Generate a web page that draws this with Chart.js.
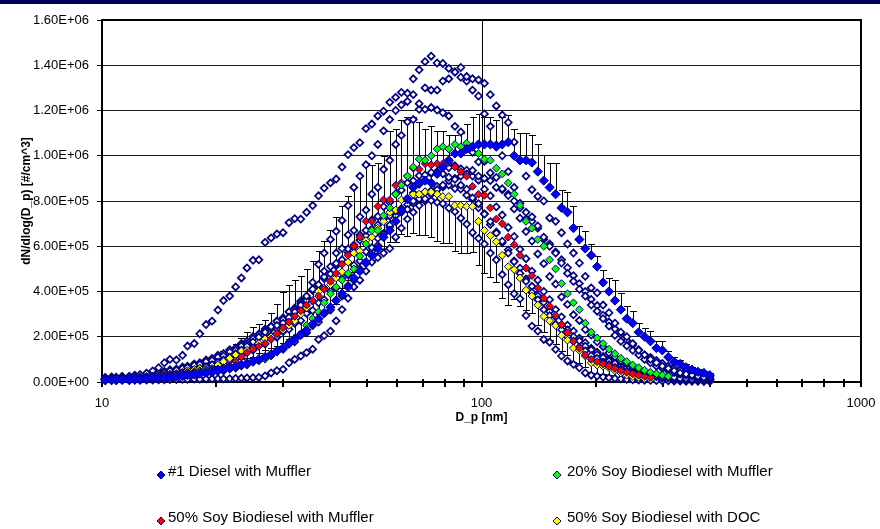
<!DOCTYPE html>
<html>
<head>
<meta charset="utf-8">
<script src="https://cdn.jsdelivr.net/npm/chart.js@4.4.1/dist/chart.umd.min.js"></script>
<style>
  html, body { margin: 0; padding: 0; background: #fff; }
  #wrap { position: relative; width: 880px; height: 529px; overflow: hidden; font-family: Arial, "Liberation Sans", sans-serif; }
  #topbar { position: absolute; left: 0; top: 0; width: 880px; height: 4px; background: #00005a; }
  .lgText { position: absolute; font-size: 15px; line-height: 17px; color: #000; white-space: nowrap; }
  .lgMark { position: absolute; width: 10px; height: 10px; }
</style>
</head>
<body>
<div id="wrap">
  <canvas id="myChart" width="880" height="529"></canvas>
  <div id="topbar"></div>
  <div id="legend"></div>
</div>
<script>
// particle diameter of each SMPS channel [nm]
var DIAMETER_NM = [
  10.2, 10.6, 10.9, 11.3, 11.8, 12.2, 12.6, 13.1, 13.6, 14.1,
  14.6, 15.1, 15.7, 16.3, 16.8, 17.5, 18.1, 18.8, 19.5, 20.2,
  20.9, 21.7, 22.5, 23.3, 24.1, 25.0, 25.9, 26.9, 27.9, 28.9,
  30.0, 31.1, 32.2, 33.4, 34.6, 35.9, 37.2, 38.5, 40.0, 41.4,
  42.9, 44.5, 46.1, 47.8, 49.6, 51.4, 53.3, 55.2, 57.3, 59.4,
  61.5, 63.8, 66.1, 68.5, 71.0, 73.7, 76.4, 79.1, 82.0, 85.1,
  88.2, 91.4, 94.7, 98.2, 101.8, 105.5, 109.4, 113.4, 117.6, 121.9,
  126.3, 131.0, 135.8, 140.7, 145.9, 151.2, 156.8, 162.5, 168.5, 174.7,
  181.1, 187.7, 194.6, 201.7, 209.1, 216.7, 224.7, 232.9, 241.4, 250.3,
  259.5, 269.0, 278.8, 289.0, 299.6, 310.6, 322.0, 333.8, 346.0, 358.7,
  371.8, 385.4, 399.5
];

// all values below in units of 1e4 #/cm^3
var UNIT = 1e4;

var SERIES_LABELS = ['#1 Diesel with Muffler', '20% Soy Biodiesel with Muffler',
                     '50% Soy Biodiesel with Muffler', '50% Soy Biodiesel with DOC'];
var SERIES_COLORS = ['#0000ff', '#00ff00', '#ff0000', '#ffff00'];

var DIESEL = [
  1.0, 1.0, 1.0, 1.1, 1.2, 1.3, 1.4, 1.5, 1.7, 1.9,
  2.0, 2.2, 2.4, 2.7, 3.0, 3.3, 3.7, 4.1, 4.5, 5.0,
  5.5, 6.1, 6.8, 7.5, 8.3, 9.2, 10.1, 11.1, 12.3, 13.6,
  15, 17, 19, 21, 23, 25.5, 28, 30.5, 33, 36,
  39, 42, 46, 49, 53, 56, 59, 64, 67, 71,
  76, 81, 86, 88, 89, 88, 92, 95, 98, 101,
  101, 103, 104, 105, 105, 105, 104, 105, 106, 100,
  98, 98, 97, 93, 89, 86, 83, 77, 75, 68,
  63, 59, 56, 51, 44, 40, 36, 32, 28, 26,
  22, 20, 18, 15, 14, 11, 9, 8, 6.5, 5.5,
  4.5, 4, 3
];
// plus-direction error bars
var DIESEL_ERR = [
  0.6, 0.6, 0.7, 0.8, 0.9, 1.0, 1.2, 1.4, 1.6, 1.9,
  2.2, 2.6, 3.0, 3.5, 4.0, 4.6, 5.2, 5.8, 6.4, 7.0,
  8, 9, 10, 12, 14, 15, 15.5, 16.5, 18, 21,
  25, 26, 26, 26, 27, 28, 30, 32, 34, 37,
  39, 40, 40, 42, 44, 40, 38, 36, 44, 41,
  40, 36, 31, 27, 23, 25, 19, 16, 11, 8,
  9, 11, 13, 13.5, 12, 12, 12, 12, 12, 12,
  12, 12, 12, 12, 11.5, 11, 14, 8, 9, 10,
  6, 7.6, 5, 4.5, 5.7, 6, 9, 7.4, 5.5, 5.3,
  4, 4, 4.5, 3, 4, 2.5, 2.2, 1.9, 1.6, 1.3,
  1.1, 0.9, 0.8
];

var SOY20 = [
  1.1, 1.1, 1.2, 1.3, 1.4, 1.5, 1.6, 1.8, 2.0, 2.2,
  2.4, 2.7, 3.0, 3.3, 3.7, 4.1, 4.6, 5.1, 5.4, 5.6,
  5.8, 6.3, 6.9, 7.5, 8.1, 8.7, 9.4, 10.1, 11.5, 13.2,
  15, 17.6, 19.5, 21, 25, 28, 31, 35, 39, 42,
  45, 48, 50, 55.6, 61, 67, 67, 73.5, 77, 83,
  87, 91, 95, 98.5, 98, 100, 103, 104, 103, 105,
  104, 105.5, 104, 101, 98.5, 98, 94.5, 92, 88, 83,
  78, 71, 68, 63, 60, 54, 50, 43.5, 39, 35,
  32, 26, 22, 19.5, 17, 14.5, 12.5, 10.5, 9, 7.5,
  6.3, 5.2, 4.3, 3.6, 3, 2.5, null, null, null, null,
  null, null, null
];

var SOY50 = [
  1.2, 1.2, 1.3, 1.4, 1.5, 1.7, 1.9, 2.1, 2.4, 2.7,
  3.0, 3.3, 3.6, 3.9, 4.2, 4.6, 5.0, 5.3, 5.6, 5.8,
  6.3, 7.0, 9.0, 11.0, 13, 14.5, 15.8, 17, 19, 21.5,
  24, 26.5, 29, 31.5, 34, 36, 38, 41, 44.5, 48,
  52, 56, 60, 64, 71, 71, 77.6, 80.5, 80.5, 87,
  88, 91, 94.5, 94, 96.5, 96, 96.5, 96.5, 97, 95,
  93, 91, 86.5, 83, 82.5, 77, 72, 70, 64, 60.7,
  56, 50.4, 47, 41.6, 37, 33.5, 29.4, 25.4, 21.8, 18,
  15, 12, 10, 9, 8, 7, 6, 5, 4.3, 3.6,
  3, 2.5, 2.1, null, null, null, null, null, null, null,
  null, null, null
];

var SOY50_DOC = [
  1.3, 1.4, 1.5, 1.6, 1.8, 2.0, 2.2, 2.5, 2.7, 3.0,
  3.2, 3.3, 3.4, 4.2, 5.0, 5.5, 6.0, 6.0, 6.0, 7.5,
  9, 10.5, 12, 13.7, 14, 15, 17, 19, 20, 21,
  23, 25, 27, 30, 32.8, 35.7, 40, 41.5, 43, 46,
  48.7, 53, 57, 57.8, 62.5, 64, 68, 71, 75, 76,
  80.5, 80.5, 83, 83, 84, 84, 83, 82, 82, 78,
  78, 77.6, 77.6, 71, 67, 64.7, 62, 56, 51, 49.7,
  46, 40.6, 38, 34, 29, 27, 25, 20.6, 18.5, 15,
  14, 11.5, 8.5, 7.5, 7, 6.3, 5, 4, 3, 2.4,
  2, 1.5, 1.2, null, null, null, null, null, null, null,
  null, null, null
];
// minus-direction error bars
var SOY50_DOC_ERR = [
  0.3, 0.3, 0.4, 0.4, 0.4, 0.5, 0.5, 0.6, 0.7, 0.7,
  0.8, 0.8, 0.9, 1.0, 1.2, 1.4, 1.5, 1.5, 1.5, 1.9,
  2.2, 2.6, 3, 3.4, 3.5, 3.8, 4.2, 4.8, 5, 5.2,
  5.8, 6.2, 6.8, 7.5, 8.2, 9, 10, 10.4, 10.8, 11.5,
  7, 8, 8.5, 9, 9.5, 10, 11, 12, 13, 14,
  15, 16, 17, 18, 19, 20, 20.5, 20.5, 20.5, 20,
  21, 20.5, 20, 19.5, 19, 18.5, 18, 19, 17, 13,
  12.5, 8.6, 7.4, 9, 7, 8.5, 8, 7, 6.5, 6,
  5.5, 5, 4.5, 4, 3.5, 3, 2.6, 2.2, 1.9, 1.6,
  1.3, 1.1, 1, null, null, null, null, null, null, null,
  null, null, null
];

// individual runs, open markers (not in the legend)
var RUN_1 = [
  1.5, 1.6, 1.8, 2.0, 2.3, 2.7, 3.2, 3.9, 4.9, 6.3,
  8.5, 10, 9.7, 11.8, 15.9, 17, 21.3, 25.4, 26.9, 31.8,
  36, 38, 42, 46, 50.4, 53.8, 54, 61.7, 63.7, 65.4,
  66, 70.4, 72.2, 72, 75, 78, 82.3, 85.7, 88, 89.7,
  95, 100.5, 103.6, 105.8, 112, 114, 117.6, 119.7, 123.6, 125.8,
  128, 127.6, 134, 138, 141.6, 144, 141, 140.8, 138.6, 137,
  139, 135, 134, 133.5, 132, 127, 122, 118, 114.7, 106,
  98, 91, 85, 82, 80, 72.5, 71, 66, 61, 57,
  52.6, 46.7, 41.6, 39.4, 34, 30.6, 26, 22, 20, 17,
  14, 12, 10, 8.5, 7, 6, 5, 4, 3.5, 3,
  2.5, 2, 1.8
];
var RUN_2 = [
  1.2, 1.2, 1.3, 1.4, 1.5, 1.6, 1.8, 2.0, 2.2, 2.5,
  2.8, 3.2, 3.6, 4.1, 4.7, 5.3, 6.0, 6.8, 7.7, 8.7,
  9.8, 11, 12.5, 14, 15.8, 17.7, 19.8, 22, 24.5, 25,
  26, 28.5, 31, 34, 38, 44, 52, 57, 63, 66.6,
  71.4, 78, 86, 91, 96, 100, 105, 111, 116, 120,
  122.5, 124, 127, 123, 130, 129, 129, 133, 134, 137,
  134.7, 133, 129, 126.4, 118.5, 113, 104.8, 100, 93, 86,
  79, 72, 73, 69, 64, 60, 57, 52.6, 48, 44.5,
  41, 38, 34, 31.3, 28, 24.7, 20.6, 18, 16, 14,
  12, 10, 8.5, 7, 6, 5, 4.2, 3.5, 3, 2.5,
  2, 1.8, 1.5
];
var RUN_3 = [
  1.0, 1.1, 1.0, 1.2, 1.1, 1.4, 1.3, 1.6, 1.6, 2.0,
  2.0, 2.5, 2.6, 3.2, 3.4, 4.1, 4.5, 5.4, 6.0, 7.1,
  7.8, 9.4, 10.2, 12.3, 13.1, 15.4, 16.5, 19.4, 20.4, 23.6,
  24.2, 28.6, 30.2, 34.8, 36, 41, 43, 49, 51, 57,
  59, 65, 67, 73, 76, 83, 86, 94, 98, 105,
  109, 115, 116, 120.5, 120.5, 121.3, 120.2, 119, 117.6, 113,
  110.5, 104, 101.5, 97.3, 97.5, 92.4, 90.4, 85.4, 82.4, 76.5,
  72.4, 66.5, 62.3, 56.6, 52.3, 46.6, 43.3, 37.6, 34.3, 29.7,
  27.2, 23.2, 20.7, 17.8, 15.6, 12.9, 11.1, 9.4, 8.1, 6.7,
  5.8, 4.7, 4.1, 3.3, 2.9, 2.3, 2.1, 1.6, 1.5, 1.2,
  1.2, 1.0, 1.0
];
var RUN_4 = [
  1.8, 2.0, 1.9, 2.3, 2.4, 2.5, 3.0, 3.2, 3.4, 4.0,
  4.2, 4.9, 5.2, 6.0, 6.4, 7.4, 7.8, 9.0, 9.5, 11,
  11.5, 13.3, 14, 16, 16.8, 19.2, 20, 22.8, 23.6, 26.8,
  27.6, 31, 32, 35.8, 36.9, 41, 42, 46.5, 47.8, 52.4,
  54, 58.8, 60.5, 65, 67, 71.6, 73.2, 77.5, 79.4, 83.2,
  84.8, 88, 89, 91.2, 91.5, 92.6, 92, 92, 90.5, 89.6,
  87, 85.2, 81.4, 78.8, 74.2, 70.9, 65.8, 62.2, 57, 53.2,
  48, 44.5, 39.6, 36.4, 32, 29.3, 25.5, 23.1, 20, 18,
  15.4, 13.8, 11.6, 10.4, 8.7, 7.7, 6.4, 5.7, 4.7, 4.2,
  3.4, 3.1, 2.5, 2.3, 1.8, 1.7, 1.3, 1.2, 1.0, 0.9,
  0.8, 0.7, 0.6
];
var RUN_5 = [
  0.5, 0.6, 0.6, 0.7, 0.6, 0.8, 0.7, 0.9, 0.9, 1.0,
  1.0, 1.1, 1.1, 1.2, 1.2, 1.3, 1.3, 1.4, 1.4, 1.5,
  1.4, 1.5, 1.6, 1.7, 1.8, 1.9, 2.0, 2.7, 4.0, 5.0,
  5.6, 8.5, 10, 11.5, 13, 14.5, 18.8, 20.5, 22.5, 27,
  32, 37, 42, 45, 49, 53, 55, 57, 59, 64,
  68, 72, 75, 78, 81, 83, 85, 87, 89, 90,
  91, 92, 93.5, 91, 90, 89, 86, 85, 83, 80,
  77, 75, 71, 68, 63, 61, 57.5, 54, 50.5, 47,
  43.5, 40, 36.5, 33.8, 29.5, 26.5, 23.5, 21, 18.5, 16.3,
  14.3, 12, 10.9, 9.5, 8.2, 7.1, 6.1, 5.2, 4.5, 3.9,
  3.4, 2.9, 2.5
];
var RUN_6 = [
  1.4, 1.4, 1.7, 1.6, 2.0, 2.1, 2.4, 2.5, 3.0, 3.1,
  3.6, 3.8, 4.4, 4.6, 5.3, 5.6, 6.4, 6.8, 7.7, 8.2,
  9.4, 9.9, 11.3, 11.9, 13.5, 14.1, 16, 16.8, 19, 19.8,
  22.3, 23.3, 26, 27.1, 30.3, 31.6, 35, 36.4, 40.2, 41.7,
  45.8, 47.4, 51.6, 53.5, 57.6, 59.4, 63.5, 65.4, 69.3, 71.2,
  75, 76.3, 80, 81, 84, 84.6, 86.4, 86.2, 87, 85.5,
  85.3, 82.6, 80.8, 77, 74.4, 69.6, 66.3, 61.5, 58.4, 53.5,
  50.3, 45.6, 42.3, 38.1, 35.2, 31.2, 28.8, 25.2, 23, 20,
  18.2, 15.8, 14.2, 12.1, 10.8, 9.2, 8.2, 6.9, 6.2, 5.2,
  4.7, 3.9, 3.6, 2.9, 2.7, 2.2, 2.1, 1.7, 1.6, 1.4,
  1.2, 1.1, 1
];
var RUN_7 = [
  2.0, 2.2, 2.1, 2.5, 2.5, 3.0, 3.1, 3.6, 3.8, 4.4,
  4.7, 5.4, 5.8, 6.6, 7.0, 8.0, 8.5, 9.7, 10.4, 11.8,
  12.6, 14.3, 15.1, 17, 18, 20.1, 21.2, 23.4, 24.7, 27,
  28.4, 31, 32.7, 35.5, 37.4, 40.4, 42.5, 45.7, 48, 51.4,
  53.8, 57.2, 59.5, 62.7, 64.7, 67.6, 69.4, 72, 73.4, 75.6,
  76.6, 78.4, 79, 80, 80, 80.2, 79.4, 78.8, 76.9, 75.3,
  72.4, 69.8, 66, 63.5, 61, 57, 54, 47.5, 43, 39,
  36.8, 29.4, 24.7, 22.5, 18.8, 17.6, 14.4, 11.5, 9.3, 7.8,
  6.3, 4, 3, 2.6, 2.2, 1.9, 1.6, 1.4, 1.2, 1,
  0.9, 0.8, 0.7, 0.6, 0.5, 0.5, 0.4, 0.4, 0.3, 0.3,
  0.3, 0.2, 0.2
];
var RUN_8 = [
  0.9, 1.0, 0.9, 1.1, 1.1, 1.2, 1.2, 1.4, 1.5, 1.7,
  1.8, 2.1, 2.2, 2.5, 2.6, 3.1, 3.3, 3.8, 4.0, 4.7,
  5.0, 5.8, 6.2, 7.2, 7.6, 8.9, 9.5, 11, 11.8, 13.6,
  14.5, 16.8, 17.8, 20.6, 21.8, 25, 26.5, 30.2, 31.8, 36,
  38, 42.6, 45, 50, 52.4, 57.8, 60.3, 65.6, 68.4, 73.5,
  76.4, 81, 83.6, 87.4, 89.2, 92.2, 93, 95, 94.8, 95.6,
  94.2, 93.6, 91, 89.2, 85.2, 82.3, 77.4, 73.8, 68.3, 64.3,
  58.6, 54.5, 49, 45, 40, 36.4, 32, 28.8, 25.1, 22.5,
  19.4, 17.4, 14.9, 13.2, 11.3, 10, 8.5, 7.6, 6.4, 5.7,
  4.8, 4.3, 3.6, 3.3, 2.7, 2.5, 2.0, 1.9, 1.5, 1.4,
  1.2, 1.1, 1
];

var Y_MAX = 1600000;
var Y_STEP = 200000;
var X_LABEL_TICKS = [10, 100, 1000];
var X_MINOR_TICKS = [20, 30, 40, 50, 60, 70, 80, 90, 200, 300, 400, 500, 600, 700, 800, 900];

var FONT = 'Arial, "Liberation Sans", sans-serif';
var NAVY = '#000080';

function toPoints(values, errors) {
    var pts = [];
    for (var i = 0; i < values.length; i++) {
        if (values[i] === null) continue;
        pts.push({
            x: DIAMETER_NM[i],
            y: values[i] * UNIT,
            err: errors && errors[i] !== null ? errors[i] * UNIT : null
        });
    }
    return pts;
}

function sciLabel(v) {
    if (v === 0) return '0.00E+00';
    var e = Math.floor(Math.log10(v) + 1e-9);
    var m = v / Math.pow(10, e);
    return m.toFixed(2) + 'E+' + (e < 10 ? '0' : '') + e;
}

var mainValues = [DIESEL, SOY20, SOY50, SOY50_DOC];
var mainErrors = [DIESEL_ERR, null, null, SOY50_DOC_ERR];
var errorSide = ['plus', null, null, 'minus'];
var mainRadius = [4.6, 3.9, 3.9, 3.9];
var runs = [RUN_1, RUN_2, RUN_3, RUN_4, RUN_5, RUN_6, RUN_7, RUN_8];

var datasets = [];
for (var s = 0; s < mainValues.length; s++) {
    datasets.push({
        label: SERIES_LABELS[s],
        data: toPoints(mainValues[s], mainErrors[s]),
        errorSide: errorSide[s],
        pointStyle: 'rectRot',
        pointRadius: mainRadius[s],
        pointBackgroundColor: SERIES_COLORS[s],
        pointBorderColor: NAVY,
        pointBorderWidth: 1,
        showLine: false,
        clip: false,
        order: 0
    });
}
runs.forEach(function(r, k) {
    datasets.push({
        label: 'run ' + (k + 1),
        data: toPoints(r),
        pointStyle: 'rectRot',
        pointRadius: 3.5,
        pointBackgroundColor: '#ffffff',
        pointBorderColor: NAVY,
        pointBorderWidth: 1.7,
        showLine: false,
        clip: false,
        order: 1
    });
});

// grid line at 100 nm, error bars, plot frame and x tick marks
var frameAndErrors = {
    id: 'frameAndErrors',
    beforeDatasetsDraw: function(chart) {
        var ctx = chart.ctx, a = chart.chartArea;
        var xs = chart.scales.x, ys = chart.scales.y;
        ctx.save();
        ctx.strokeStyle = '#000';
        ctx.lineWidth = 1;
        var gx = Math.round(xs.getPixelForValue(100)) + 0.5;
        ctx.beginPath();
        ctx.moveTo(gx, a.top);
        ctx.lineTo(gx, a.bottom);
        ctx.stroke();

        ctx.save();
        ctx.beginPath();
        ctx.rect(a.left, a.top, a.right - a.left, a.bottom - a.top);
        ctx.clip();
        chart.data.datasets.forEach(function(ds) {
            if (!ds.errorSide) return;
            ds.data.forEach(function(p) {
                if (p.err === null) return;
                var px = Math.round(xs.getPixelForValue(p.x)) + 0.5;
                var y0 = ys.getPixelForValue(p.y);
                var end = ds.errorSide === 'plus' ? p.y + p.err : p.y - p.err;
                var ye = Math.round(ys.getPixelForValue(end)) + 0.5;
                ctx.beginPath();
                ctx.moveTo(px, y0); ctx.lineTo(px, ye);
                ctx.moveTo(px - 3.5, ye); ctx.lineTo(px + 3.5, ye);
                ctx.stroke();
            });
        });
        ctx.restore();

        ctx.lineWidth = 2;
        ctx.strokeRect(a.left, a.top, a.right - a.left, a.bottom - a.top);
        ctx.beginPath();
        X_MINOR_TICKS.forEach(function(v) {
            var x = Math.round(xs.getPixelForValue(v));
            ctx.moveTo(x, a.bottom - 3);
            ctx.lineTo(x, a.bottom + 5);
        });
        X_LABEL_TICKS.forEach(function(v) {
            var x = Math.round(xs.getPixelForValue(v));
            ctx.moveTo(x, a.bottom);
            ctx.lineTo(x, a.bottom + 5);
        });
        ctx.stroke();
        ctx.restore();
    }
};

var ctx = document.getElementById('myChart').getContext('2d');
var myChart = new Chart(ctx, {
    type: 'scatter',
    data: { datasets: datasets },
    options: {
        responsive: false,
        animation: false,
        events: [],
        devicePixelRatio: 1,
        layout: { padding: { left: 0, top: 20, right: 19, bottom: 102 } },
        plugins: {
            legend: { display: false },
            tooltip: { enabled: false }
        },
        scales: {
            x: {
                type: 'logarithmic',
                min: 10,
                max: 1000,
                afterBuildTicks: function(scale) {
                    scale.ticks = X_LABEL_TICKS.map(function(v) { return { value: v }; });
                },
                afterFit: function(scale) { scale.height = 45; },
                ticks: {
                    autoSkip: false,
                    maxRotation: 0,
                    padding: 3,
                    color: '#000',
                    font: { family: FONT, size: 13, lineHeight: 2.9 },
                    callback: function(v) { return String(v); }
                },
                grid: { display: false, drawTicks: false },
                border: { display: false },
                title: {
                    display: true,
                    text: 'D_p [nm]',
                    color: '#000',
                    font: { family: FONT, size: 12, weight: 'bold' },
                    padding: { top: 0, bottom: 2 }
                }
            },
            y: {
                min: 0,
                max: Y_MAX,
                afterFit: function(scale) { scale.width = 102; },
                ticks: {
                    stepSize: Y_STEP,
                    padding: 8,
                    color: '#000',
                    font: { family: FONT, size: 13 },
                    callback: sciLabel
                },
                grid: { color: '#1a1a1a', lineWidth: 1, tickLength: 5, tickColor: '#000' },
                border: { display: false },
                title: {
                    display: true,
                    text: 'dN/dlog(D_p) [#/cm^3]',
                    color: '#000',
                    font: { family: FONT, size: 12, weight: 'bold' },
                    padding: { top: 19, bottom: 0 }
                }
            }
        }
    },
    plugins: [frameAndErrors]
});

// legend, 2 x 2 below the plot
var LEGEND_MARK_X = [161, 557];
var LEGEND_TEXT_X = [168, 567];
var LEGEND_ROW_Y = [471, 517];
var legend = document.getElementById('legend');
SERIES_LABELS.forEach(function(label, i) {
    var col = i % 2, row = Math.floor(i / 2);
    var mark = document.createElement('div');
    mark.className = 'lgMark';
    mark.style.left = (LEGEND_MARK_X[col] - 5) + 'px';
    mark.style.top = (LEGEND_ROW_Y[row] - 5) + 'px';
    mark.innerHTML = '<svg width="10" height="10"><polygon points="5,1 9,5 5,9 1,5" fill="' +
        SERIES_COLORS[i] + '" stroke="' + NAVY + '" stroke-width="1"/></svg>';
    legend.appendChild(mark);
    var txt = document.createElement('div');
    txt.className = 'lgText';
    txt.style.left = LEGEND_TEXT_X[col] + 'px';
    txt.style.top = (LEGEND_ROW_Y[row] - 9) + 'px';
    txt.textContent = label;
    legend.appendChild(txt);
});
</script>
</body>
</html>
